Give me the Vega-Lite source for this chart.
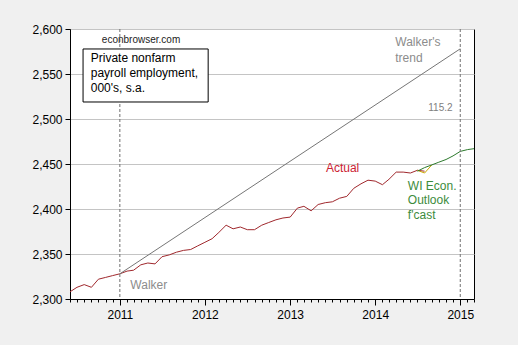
{
  "$schema": "https://vega.github.io/schema/vega-lite/v6.json",
  "autosize": {"type": "none"},
  "width": 404,
  "height": 270,
  "padding": {"left": 70, "top": 29, "right": 44, "bottom": 46},
  "background": "#f0f0f0",
  "config": {
    "font": "Liberation Sans",
    "view": {"fill": "white", "stroke": "black", "strokeWidth": 1},
    "axis": {"labelFont": "Liberation Sans", "labelFontSize": 12, "labelColor": "black", "domainColor": "black", "tickColor": "black", "title": null}
  },
  "resolve": {"axis": {"x": "independent", "y": "independent"}},
  "datasets": {
    "series": [
      {"date": "2010-06-01", "value": 2308, "series": "Actual"},
      {"date": "2010-07-01", "value": 2313, "series": "Actual"},
      {"date": "2010-08-01", "value": 2316, "series": "Actual"},
      {"date": "2010-09-01", "value": 2313, "series": "Actual"},
      {"date": "2010-10-01", "value": 2322, "series": "Actual"},
      {"date": "2010-11-01", "value": 2324, "series": "Actual"},
      {"date": "2010-12-01", "value": 2326, "series": "Actual"},
      {"date": "2011-01-01", "value": 2328, "series": "Actual"},
      {"date": "2011-02-01", "value": 2331, "series": "Actual"},
      {"date": "2011-03-01", "value": 2332, "series": "Actual"},
      {"date": "2011-04-01", "value": 2338, "series": "Actual"},
      {"date": "2011-05-01", "value": 2340, "series": "Actual"},
      {"date": "2011-06-01", "value": 2339, "series": "Actual"},
      {"date": "2011-07-01", "value": 2347, "series": "Actual"},
      {"date": "2011-08-01", "value": 2349, "series": "Actual"},
      {"date": "2011-09-01", "value": 2352, "series": "Actual"},
      {"date": "2011-10-01", "value": 2354, "series": "Actual"},
      {"date": "2011-11-01", "value": 2355, "series": "Actual"},
      {"date": "2011-12-01", "value": 2359, "series": "Actual"},
      {"date": "2012-01-01", "value": 2363, "series": "Actual"},
      {"date": "2012-02-01", "value": 2367, "series": "Actual"},
      {"date": "2012-03-01", "value": 2374, "series": "Actual"},
      {"date": "2012-04-01", "value": 2382, "series": "Actual"},
      {"date": "2012-05-01", "value": 2378, "series": "Actual"},
      {"date": "2012-06-01", "value": 2380, "series": "Actual"},
      {"date": "2012-07-01", "value": 2377, "series": "Actual"},
      {"date": "2012-08-01", "value": 2377, "series": "Actual"},
      {"date": "2012-09-01", "value": 2382, "series": "Actual"},
      {"date": "2012-10-01", "value": 2385, "series": "Actual"},
      {"date": "2012-11-01", "value": 2388, "series": "Actual"},
      {"date": "2012-12-01", "value": 2390, "series": "Actual"},
      {"date": "2013-01-01", "value": 2391, "series": "Actual"},
      {"date": "2013-02-01", "value": 2401, "series": "Actual"},
      {"date": "2013-03-01", "value": 2403, "series": "Actual"},
      {"date": "2013-04-01", "value": 2398, "series": "Actual"},
      {"date": "2013-05-01", "value": 2405, "series": "Actual"},
      {"date": "2013-06-01", "value": 2407, "series": "Actual"},
      {"date": "2013-07-01", "value": 2408, "series": "Actual"},
      {"date": "2013-08-01", "value": 2412, "series": "Actual"},
      {"date": "2013-09-01", "value": 2414, "series": "Actual"},
      {"date": "2013-10-01", "value": 2423, "series": "Actual"},
      {"date": "2013-11-01", "value": 2428, "series": "Actual"},
      {"date": "2013-12-01", "value": 2432, "series": "Actual"},
      {"date": "2014-01-01", "value": 2431, "series": "Actual"},
      {"date": "2014-02-01", "value": 2427, "series": "Actual"},
      {"date": "2014-03-01", "value": 2433, "series": "Actual"},
      {"date": "2014-04-01", "value": 2441, "series": "Actual"},
      {"date": "2014-05-01", "value": 2441, "series": "Actual"},
      {"date": "2014-06-01", "value": 2440, "series": "Actual"},
      {"date": "2014-07-01", "value": 2443, "series": "Actual"},
      {"date": "2014-08-01", "value": 2442, "series": "Actual"},
      {"date": "2014-07-01", "value": 2443, "series": "Alt"},
      {"date": "2014-08-01", "value": 2440, "series": "Alt"},
      {"date": "2014-09-01", "value": 2449, "series": "Alt"},
      {"date": "2014-07-01", "value": 2442, "series": "Forecast"},
      {"date": "2014-08-01", "value": 2446, "series": "Forecast"},
      {"date": "2014-09-01", "value": 2449, "series": "Forecast"},
      {"date": "2014-10-01", "value": 2452, "series": "Forecast"},
      {"date": "2014-11-01", "value": 2455, "series": "Forecast"},
      {"date": "2014-12-01", "value": 2459, "series": "Forecast"},
      {"date": "2015-01-01", "value": 2464, "series": "Forecast"},
      {"date": "2015-02-01", "value": 2466, "series": "Forecast"},
      {"date": "2015-03-01", "value": 2467, "series": "Forecast"},
      {"date": "2011-01-01", "value": 2328, "series": "Trend"},
      {"date": "2015-01-01", "value": 2578, "series": "Trend"}
    ]
  },
  "layer": [
    {
      "data": {"name": "series"},
      "mark": {"type": "line", "strokeWidth": 1},
      "encoding": {
        "x": {
          "field": "date", "type": "temporal",
          "scale": {"type": "utc", "domain": [{"year": 2010, "month": 6, "date": 1, "utc": true}, {"year": 2015, "month": 3, "date": 1, "utc": true}]},
          "axis": {"tickCount": {"interval": "month", "step": 1}, "labelExpr": "utcmonth(datum.value) == 0 ? utcFormat(datum.value, '%Y') : ''", "labelOverlap": false, "labelFlush": false, "tickSize": {"condition": {"test": "utcmonth(datum.value) == 0", "value": 6}, "value": 3}, "labelPadding": 4, "grid": false}
        },
        "y": {
          "field": "value", "type": "quantitative",
          "scale": {"domain": [2300, 2600], "nice": false, "zero": false},
          "axis": {"values": [2300, 2350, 2400, 2450, 2500, 2550, 2600], "labelExpr": "format(datum.value, ',')", "tickSize": 5, "labelPadding": 3, "grid": true, "gridColor": "#c4c4c4", "gridWidth": 1}
        },
        "color": {
          "field": "series", "type": "nominal", "legend": null,
          "scale": {"domain": ["Actual", "Alt", "Forecast", "Trend"], "range": ["#a0282d", "#c9a800", "#2d7a2d", "#767676"]}
        },
        "order": {"field": "date", "type": "temporal"}
      }
    },
    {
      "data": {"values": [{"d": 1}]},
      "mark": {"type": "rule", "color": "#707070", "strokeDash": [3, 2], "strokeWidth": 1},
      "encoding": {"x": {"datum": {"year": 2011, "month": 1, "date": 1, "utc": true}, "type": "temporal", "axis": null}}
    },
    {
      "data": {"values": [{"d": 1}]},
      "mark": {"type": "rule", "color": "#707070", "strokeDash": [3, 2], "strokeWidth": 1},
      "encoding": {"x": {"datum": {"year": 2015, "month": 1, "date": 1, "utc": true}, "type": "temporal", "axis": null}}
    },
    {
      "data": {"values": [{"d": 1}]},
      "mark": {"type": "rect", "fill": "white", "stroke": "black", "strokeWidth": 1},
      "encoding": {
        "x": {"datum": {"year": 2010, "month": 7, "date": 27, "utc": true}, "type": "temporal", "axis": null},
        "x2": {"datum": {"year": 2012, "month": 1, "date": 15, "utc": true}},
        "y": {"datum": 2577.8, "type": "quantitative", "axis": null},
        "y2": {"datum": 2518.9}
      }
    },
    {
      "data": {"values": [{"d": 1}]},
      "mark": {"type": "text", "align": "left", "baseline": "top", "fontSize": 12, "lineHeight": 15, "color": "black", "text": ["Private nonfarm", "payroll employment,", "000's, s.a."]},
      "encoding": {
        "x": {"datum": {"year": 2010, "month": 8, "date": 29, "utc": true}, "type": "temporal", "axis": null},
        "y": {"datum": 2573, "type": "quantitative", "axis": null}
      }
    },
    {
      "data": {"values": [{"d": 1}]},
      "mark": {"type": "text", "align": "center", "baseline": "middle", "fontSize": 10, "color": "#222222", "text": "econbrowser.com"},
      "encoding": {
        "x": {"datum": {"year": 2011, "month": 4, "date": 2, "utc": true}, "type": "temporal", "axis": null},
        "y": {"datum": 2588, "type": "quantitative", "axis": null}
      }
    },
    {
      "data": {"values": [{"d": 1}]},
      "mark": {"type": "text", "align": "left", "baseline": "top", "fontSize": 12, "lineHeight": 16, "color": "#8c8c8c", "text": ["Walker's", "trend"]},
      "encoding": {
        "x": {"datum": {"year": 2014, "month": 3, "date": 28, "utc": true}, "type": "temporal", "axis": null},
        "y": {"datum": 2591, "type": "quantitative", "axis": null}
      }
    },
    {
      "data": {"values": [{"d": 1}]},
      "mark": {"type": "text", "align": "right", "baseline": "middle", "fontSize": 10, "color": "#808080", "text": "115.2"},
      "encoding": {
        "x": {"datum": {"year": 2014, "month": 11, "date": 29, "utc": true}, "type": "temporal", "axis": null},
        "y": {"datum": 2512, "type": "quantitative", "axis": null}
      }
    },
    {
      "data": {"values": [{"d": 1}]},
      "mark": {"type": "text", "align": "center", "baseline": "middle", "fontSize": 12, "color": "#cc2233", "text": "Actual"},
      "encoding": {
        "x": {"datum": {"year": 2013, "month": 8, "date": 14, "utc": true}, "type": "temporal", "axis": null},
        "y": {"datum": 2446, "type": "quantitative", "axis": null}
      }
    },
    {
      "data": {"values": [{"d": 1}]},
      "mark": {"type": "text", "align": "left", "baseline": "top", "fontSize": 12, "lineHeight": 14.5, "color": "#3c8c3c", "text": ["WI Econ.", "Outlook", "f'cast"]},
      "encoding": {
        "x": {"datum": {"year": 2014, "month": 5, "date": 21, "utc": true}, "type": "temporal", "axis": null},
        "y": {"datum": 2431.5, "type": "quantitative", "axis": null}
      }
    },
    {
      "data": {"values": [{"d": 1}]},
      "mark": {"type": "text", "align": "left", "baseline": "middle", "fontSize": 12, "color": "#8c8c8c", "text": "Walker"},
      "encoding": {
        "x": {"datum": {"year": 2011, "month": 2, "date": 15, "utc": true}, "type": "temporal", "axis": null},
        "y": {"datum": 2315.5, "type": "quantitative", "axis": null}
      }
    }
  ]
}
